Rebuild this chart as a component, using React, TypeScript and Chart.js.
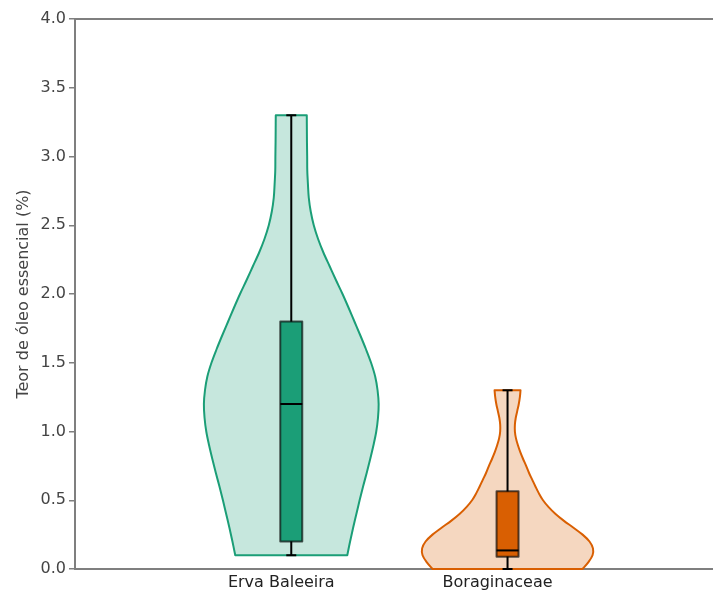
import React, { useEffect, useRef } from 'react';
import { Chart, registerables } from 'chart.js';

Chart.register(...registerables);

// ---------- DATA ----------
const categories = ['Erva Baleeira', 'Boraginaceae'];
const yTickValues = [0, 0.5, 1, 1.5, 2, 2.5, 3, 3.5, 4];

// Erva Baleeira: violin profile (value levels and half-width of density in x-axis units)
const ervaLevels = [
  0.1, 0.2, 0.3, 0.4, 0.5, 0.6, 0.7, 0.8, 0.9, 1.0, 1.1, 1.2, 1.3, 1.4, 1.5, 1.6, 1.7,
  1.8, 1.9, 2.0, 2.1, 2.2, 2.3, 2.4, 2.5, 2.6, 2.7, 2.8, 2.9, 3.0, 3.1, 3.2, 3.3,
];
const ervaHalfWidth = [
  0.259, 0.272, 0.286, 0.301, 0.316, 0.332, 0.349, 0.365, 0.38, 0.393, 0.401, 0.404, 0.399,
  0.388, 0.369, 0.345, 0.319, 0.292, 0.265, 0.237, 0.207, 0.178, 0.149, 0.124, 0.104, 0.09,
  0.081, 0.077, 0.074, 0.0735, 0.0726, 0.0721, 0.0717,
];
// min, q1, median, q3, max
const ervaStats = [0.1, 0.2, 1.2, 1.8, 3.3];

// Boraginaceae
const boragLevels = [
  0, 0.05, 0.1, 0.15, 0.2, 0.25, 0.3, 0.35, 0.4, 0.45, 0.5, 0.55, 0.6, 0.65, 0.7, 0.75, 0.8,
  0.85, 0.9, 0.95, 1.0, 1.05, 1.1, 1.15, 1.2, 1.25, 1.3,
];
const boragHalfWidth = [
  0.347, 0.374, 0.393, 0.395, 0.379, 0.347, 0.305, 0.261, 0.222, 0.19, 0.164, 0.145, 0.129,
  0.114, 0.099, 0.086, 0.072, 0.059, 0.048, 0.039, 0.034, 0.034, 0.038, 0.045, 0.052, 0.057,
  0.06,
];
const boragStats = [0, 0.09, 0.135, 0.565, 1.3];

// ---------- STYLES ----------
const violinStyles = [
  { line: '#1b9e77', fill: 'rgba(27,158,119,0.25)', box: '#1b9e77' },
  { line: '#d95f02', fill: 'rgba(217,95,2,0.25)', box: '#d95f02' },
];
const FONT = '"DejaVu Sans", "Liberation Sans", Arial, sans-serif';
const AXIS_COLOR = '#7f7f7f';

type P = { x: number; y: number };

function curveThrough(ctx: CanvasRenderingContext2D, pts: P[]) {
  const n = pts.length;
  for (let i = 0; i < n - 1; i++) {
    const p0 = pts[Math.max(0, i - 1)];
    const p1 = pts[i];
    const p2 = pts[i + 1];
    const p3 = pts[Math.min(n - 1, i + 2)];
    const c1x = p1.x + (p2.x - p0.x) / 6;
    const c1y = p1.y + (p2.y - p0.y) / 6;
    const c2x = p2.x - (p3.x - p1.x) / 6;
    const c2y = p2.y - (p3.y - p1.y) / 6;
    ctx.bezierCurveTo(c1x, c1y, c2x, c2y, p2.x, p2.y);
  }
}

function drawViolin(
  chart: any,
  center: number,
  levels: number[],
  halfWidths: number[],
  stats: number[],
  style: { line: string; fill: string; box: string }
) {
  const { ctx } = chart;
  const xs = chart.scales.x;
  const ys = chart.scales.y;
  const left: P[] = levels.map((v, i) => ({
    x: xs.getPixelForValue(center - halfWidths[i]),
    y: ys.getPixelForValue(v),
  }));
  const right: P[] = levels
    .map((v, i) => ({
      x: xs.getPixelForValue(center + halfWidths[i]),
      y: ys.getPixelForValue(v),
    }))
    .reverse();

  ctx.save();
  ctx.beginPath();
  ctx.moveTo(left[0].x, left[0].y);
  curveThrough(ctx, left);
  ctx.lineTo(right[0].x, right[0].y);
  curveThrough(ctx, right);
  ctx.closePath();
  ctx.fillStyle = style.fill;
  ctx.fill();
  ctx.strokeStyle = style.line;
  ctx.lineWidth = 2;
  ctx.lineJoin = 'round';
  ctx.stroke();

  const cx = xs.getPixelForValue(center);
  const [mn, q1, med, q3, mx] = stats.map((v) => ys.getPixelForValue(v));
  const capHalf = 5;
  const boxHalf = 11;

  ctx.strokeStyle = '#000';
  ctx.lineWidth = 2;
  ctx.beginPath();
  ctx.moveTo(cx, mn);
  ctx.lineTo(cx, mx);
  ctx.moveTo(cx - capHalf, mn);
  ctx.lineTo(cx + capHalf, mn);
  ctx.moveTo(cx - capHalf, mx);
  ctx.lineTo(cx + capHalf, mx);
  ctx.stroke();

  ctx.fillStyle = style.box;
  ctx.fillRect(cx - boxHalf, q3, boxHalf * 2, q1 - q3);
  ctx.strokeStyle = 'rgba(0,0,0,0.65)';
  ctx.lineWidth = 2;
  ctx.strokeRect(cx - boxHalf, q3, boxHalf * 2, q1 - q3);

  ctx.strokeStyle = '#000';
  ctx.beginPath();
  ctx.moveTo(cx - boxHalf, med);
  ctx.lineTo(cx + boxHalf, med);
  ctx.stroke();
  ctx.restore();
}

const violinPlugin = {
  id: 'violinPlugin',
  afterDatasetsDraw(chart: any) {
    drawViolin(chart, 0, ervaLevels, ervaHalfWidth, ervaStats, violinStyles[0]);
    drawViolin(chart, 1, boragLevels, boragHalfWidth, boragStats, violinStyles[1]);
  },
};

export default function App() {
  const ref = useRef<HTMLCanvasElement>(null);

  useEffect(() => {
    if (!ref.current) return;
    const chart = new Chart(ref.current, {
      type: 'scatter',
      data: { datasets: [] },
      options: {
        responsive: false,
        animation: false,
        layout: { padding: { top: 19, left: 0, right: 0, bottom: 0 } },
        plugins: {
          legend: { display: false },
          tooltip: { enabled: false },
        },
        scales: {
          x: {
            type: 'linear',
            position: 'bottom',
            min: -1,
            max: 1.95,
            afterBuildTicks: (s: any) => {
              s.ticks = categories.map((_, i) => ({ value: i }));
            },
            afterFit: (s: any) => {
              s.height = 23;
            },
            ticks: {
              callback: (v: any) => categories[v] ?? '',
              labelOffset: -10,
              padding: 4,
              color: '#222',
              font: { family: FONT, size: 16 },
              maxRotation: 0,
              autoSkip: false,
            },
            grid: { display: true, drawOnChartArea: false, drawTicks: false },
            border: { display: true, color: AXIS_COLOR, width: 2 },
          },
          xTop: {
            type: 'linear',
            position: 'top',
            min: -1,
            max: 1.95,
            afterFit: (s: any) => {
              s.height = 0;
            },
            ticks: { display: false },
            grid: { display: true, drawOnChartArea: false, drawTicks: false },
            border: { display: true, color: AXIS_COLOR, width: 2 },
          },
          y: {
            type: 'linear',
            position: 'left',
            min: 0,
            max: 4,
            afterBuildTicks: (s: any) => {
              s.ticks = yTickValues.map((v) => ({ value: v }));
            },
            afterFit: (s: any) => {
              s.width = 75;
            },
            ticks: {
              callback: (v: any) => Number(v).toFixed(1),
              padding: 3,
              color: '#444',
              font: { family: FONT, size: 16 },
            },
            grid: {
              display: true,
              drawOnChartArea: false,
              drawTicks: true,
              tickLength: 6,
              color: AXIS_COLOR,
              lineWidth: 1.5,
            },
            border: { display: true, color: AXIS_COLOR, width: 2 },
            title: {
              display: true,
              text: 'Teor de óleo essencial (%)',
              color: '#444',
              font: { family: FONT, size: 16 },
              padding: { top: 14, bottom: 0 },
            },
          },
        },
      } as any,
      plugins: [violinPlugin],
    });
    return () => chart.destroy();
  }, []);

  return (
    <canvas
      ref={ref}
      width={713}
      height={592}
      style={{ position: 'fixed', left: 0, top: 0, width: 713, height: 592 }}
    />
  );
}
